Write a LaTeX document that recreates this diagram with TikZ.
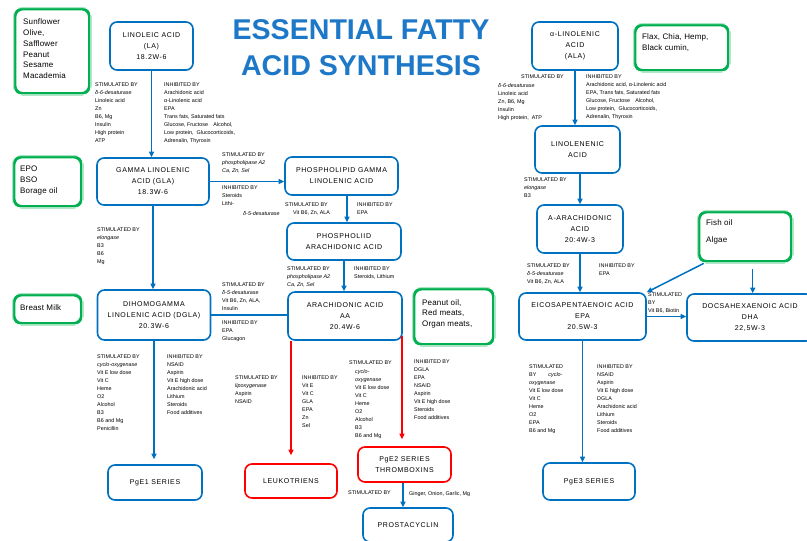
\documentclass[tikz,border=0pt]{standalone}
\usepackage{fontspec}
\setmainfont{Liberation Sans}
\newfontfamily\boxfont[LetterSpace=9]{Liberation Sans}
\newfontfamily\greenfont[LetterSpace=2]{Liberation Sans}
\usetikzlibrary{arrows.meta}
\definecolor{boxblue}{RGB}{0,112,192}
\definecolor{titleblue}{RGB}{30,120,200}
\definecolor{boxgreen}{RGB}{0,176,80}
\definecolor{boxred}{RGB}{255,0,0}
\tikzset{
  bluebox/.style={draw=boxblue, line width=1.6pt, rounded corners=7pt, fill=white, align=center, font=\boxfont\fontsize{7}{11}\selectfont, inner sep=0pt},
  redbox/.style={bluebox, draw=boxred},
  greenbox/.style={draw=boxgreen, line width=3.4pt, rounded corners=8pt, inner sep=0pt, anchor=north west},
  greentext/.style={font=\greenfont\fontsize{8}{10.8}\selectfont, align=left, anchor=north west, inner sep=0pt},
  note/.style={font=\fontsize{5.4}{8}\selectfont, align=left, anchor=north west, inner sep=0pt},
  conn/.style={draw=boxblue, line width=1.5pt},
  barrow/.style={conn, -{Triangle[length=5.5pt,width=5pt]}},
  rarrow/.style={barrow, draw=boxred, fill=boxred},
}
\newcommand\greenline[1]{\draw[white, line width=0.8pt, rounded corners=7pt] ([shift={(0.7pt,0.7pt)}]#1.south west) rectangle ([shift={(-0.7pt,-0.7pt)}]#1.north east);}
\begin{document}
\begin{tikzpicture}[x=1pt,y=-1pt]
\useasboundingbox (0,0) rectangle (807,541);
\fill[white] (0,0) rectangle (807,541);
\clip (0,0) rectangle (807,541);

% title
\node[font=\fontsize{28.6}{36}\selectfont\bfseries, text=titleblue, align=center, inner sep=0pt] (title) at (361,48) {ESSENTIAL FATTY\\ACID SYNTHESIS};

% green source boxes
\node[greenbox, minimum width=75, minimum height=85] (g1) at (13,7) {};
\greenline{g1}
\node[greentext] (g1t) at (23,18.8) {Sunflower\\Olive,\\Safflower\\Peanut\\Sesame\\Macademia};
\node[greenbox, minimum width=68, minimum height=50] (g2) at (12,155) {};
\greenline{g2}
\node[greentext] (g2t) at (20,166) {EPO\\BSO\\Borage oil};
\node[greenbox, minimum width=68, minimum height=29] (g3) at (12,293) {};
\greenline{g3}
\node[greentext] (g3t) at (20,304) {Breast Milk};
\node[greenbox, minimum width=80, minimum height=56] (g4) at (412,287) {};
\greenline{g4}
\node[greentext] (g4t) at (422,299) {Peanut oil,\\Red meats,\\Organ meats,};
\node[greenbox, minimum width=94, minimum height=46] (g5) at (633,23) {};
\greenline{g5}
\node[greentext] (g5t) at (642,34) {Flax, Chia, Hemp,\\Black cumin,};
\node[greenbox, minimum width=93, minimum height=50] (g6) at (697,210) {};
\greenline{g6}
\node[greentext] (g6t) at (706,220) {Fish oil\\[6pt]Algae};

% blue / red boxes
\node[bluebox, minimum width=83, minimum height=48] (la) at (151.5,46) {LINOLEIC ACID\\(LA)\\18.2W-6};
\node[bluebox, minimum width=112, minimum height=47] (gla) at (153,181.5) {GAMMA LINOLENIC\\ACID (GLA)\\18.3W-6};
\node[bluebox, minimum width=113, minimum height=38] (plg) at (341.5,176) {PHOSPHOLIPID GAMMA\\LINOLENIC ACID};
\node[bluebox, minimum width=114, minimum height=37] (pla) at (344,241.5) {PHOSPHOLIID\\ARACHIDONIC ACID};
\node[bluebox, minimum width=113, minimum height=50] (dgla) at (154,315) {DIHOMOGAMMA\\LINOLENIC ACID (DGLA)\\20.3W-6};
\node[bluebox, minimum width=114, minimum height=48] (aa) at (345,316) {ARACHIDONIC ACID\\AA\\20.4W-6};
\node[bluebox, minimum width=94, minimum height=35] (pge1) at (155,482.5) {PgE1 SERIES};
\node[redbox, minimum width=92, minimum height=34] (leuk) at (291,481) {LEUKOTRIENS};
\node[redbox, minimum width=93, minimum height=35] (pge2) at (404.5,464.5) {PgE2 SERIES\\THROMBOXINS};
\node[bluebox, minimum width=90, minimum height=34] (prost) at (408,525) {PROSTACYCLIN};
\node[bluebox, minimum width=86, minimum height=48] (ala) at (575,46) {α-LINOLENIC\\ACID\\(ALA)};
\node[bluebox, minimum width=85, minimum height=47] (lnn) at (577.5,149.5) {LINOLENENIC\\ACID};
\node[bluebox, minimum width=86, minimum height=48] (aar) at (580,229) {A-ARACHIDONIC\\ACID\\20:4W-3};
\node[bluebox, minimum width=127, minimum height=47] (epa) at (582.5,316.5) {EICOSAPENTAENOIC ACID\\EPA\\20.5W-3};
\node[bluebox, minimum width=126, minimum height=47] (dha) at (750,317.5) {DOCSAHEXAENOIC ACID\\DHA\\22,5W-3};
\node[bluebox, minimum width=92, minimum height=37] (pge3) at (589,481.5) {PgE3 SERIES};

% connectors
\draw[barrow] (la.south) -- (la.south |- gla.north);
\draw[barrow] (gla.south) -- (gla.south |- dgla.north);
\draw[barrow] (gla.east) -- (gla.east -| plg.west);
\coordinate (c1) at ([xshift=5.5pt]plg.south);
\draw[barrow] (c1) -- (c1 |- pla.north);
\draw[barrow] (pla.south) -- (pla.south |- aa.north);
\draw[conn] (dgla.east) -- (dgla.east -| aa.west);
\draw[barrow, shorten >=5pt] (dgla.south) -- (dgla.south |- pge1.north);
\coordinate (r1) at (leuk.north |- aa.south);
\draw[rarrow, shorten >=8pt] (r1) -- (leuk.north);
\coordinate (r2) at ([xshift=-0.8pt,yshift=5pt]aa.south east);
\draw[rarrow, shorten >=7pt] (r2) -- (r2 |- pge2.north);
\coordinate (c2) at ([xshift=-1.5pt]pge2.south);
\draw[barrow] (c2) -- (c2 |- prost.north);
\draw[barrow] (ala.south) -- (ala.south |- lnn.north);
\draw[barrow] (aar.north |- lnn.south) -- (aar.north);
\draw[barrow] (aar.south) -- (aar.south |- epa.north);
\coordinate (f1) at ([xshift=-41.5pt]g6.south);
\draw[barrow] (f1) -- (epa.north east);
\coordinate (f2) at ([xshift=7.5pt,yshift=-6pt]g6.south);
\draw[barrow] (f2) -- (f2 |- dha.north);
\draw[barrow] (epa.east) -- (epa.east -| dha.west);
\draw[barrow] (epa.south) -- (epa.south |- pge3.north);

% notes, left branch
\node[note] (n1) at (95,83) {STIMULATED BY\\\textit{δ-6-desaturase}\\Linoleic acid\\Zn\\B6, Mg\\Insulin\\High protein\\ATP};
\node[note] (n2) at (164,83) {INHIBITED BY\\Arachidonic acid\\α-Linolenic acid\\EPA\\Trans fats, Saturated fats\\Glucose, Fructose\quad Alcohol,\\Low protein,\ \ Glucocorticoids,\\Adrenalin, Thyroxin};
\node[note] (n3) at (222,153) {STIMULATED BY\\\textit{phospholipase A2}\\\textit{Ca, Zn, Sel}};
\node[note] (n4) at (222,186) {INHIBITED BY\\Steroids\\Lithi-};
\node[note] (n5) at (285,203) {STIMULATED BY\\\hspace*{8pt}Vit B6, Zn, ALA};
\node[note] (n5b) at (243,211) {\textit{δ-5-desaturase}};
\node[note] (n6) at (357,203) {INHIBITED BY\\EPA};
\node[note] (n7) at (97,228) {STIMULATED BY\\\textit{elongase}\\B3\\B6\\Mg};
\node[note] (n8) at (222,283) {STIMULATED BY\\\textit{δ-5-desaturase}\\Vit B6, Zn, ALA,\\Insulin};
\node[note] (n9) at (222,321) {INHIBITED BY\\EPA\\Glucagon};
\node[note] (n10) at (287,267) {STIMULATED BY\\\textit{phospholipase A2}\\\textit{Ca, Zn, Sel}};
\node[note] (n11) at (354,267) {INHIBITED BY\\Steroids, Lithium};
\node[note] (n12) at (97,355) {STIMULATED BY\\\textit{cyclo-oxygenase}\\Vit E low dose\\Vit C\\Heme\\O2\\Alcohol\\B3\\B6 and Mg\\Penicillin};
\node[note] (n13) at (167,355) {INHIBITED BY\\NSAID\\Aspirin\\Vit E high dose\\Arachidonic acid\\Lithium\\Steroids\\Food additives};
\node[note] (n14) at (235,376) {STIMULATED BY\\\textit{lipoxygenase}\\Aspirin\\NSAID};
\node[note] (n15) at (302,376) {INHIBITED BY\\Vit E\\Vit C\\GLA\\EPA\\Zn\\Sel};
\node[note] (n16) at (349,361) {STIMULATED BY};
\node[note] (n16b) at (355,369) {\textit{cyclo-}\\\textit{oxygenase}\\Vit E low dose\\Vit C\\Heme\\O2\\Alcohol\\B3\\B6 and Mg};
\node[note] (n17) at (414,360) {INHIBITED BY\\DGLA\\EPA\\NSAID\\Aspirin\\Vit E high dose\\Steroids\\Food additives};
\node[note] (n18) at (348,491) {STIMULATED BY};
\node[note] (n19) at (409,491) {Ginger, Onion, Garlic, Mg};

% notes, right branch
\node[note] (m1) at (521,75) {STIMULATED BY};
\node[note] (m1b) at (498,83) {\textit{δ-6-desaturase}\\Linoleic acid\\Zn, B6, Mg\\Insulin\\High protein,\ \ ATP};
\node[note] (m2) at (586,75) {INHIBITED BY\\Arachidonic acid, α-Linolenic acid\\EPA, Trans fats, Saturated fats\\Glucose, Fructose\quad Alcohol,\\Low protein,\ \ Glucocorticoids,\\Adrenalin, Thyroxin};
\node[note] (m3) at (524,178) {STIMULATED BY\\\textit{elongase}\\B3};
\node[note] (m4) at (527,264) {STIMULATED BY\\\textit{δ-5-desaturase}\\Vit B6, Zn, ALA};
\node[note] (m5) at (599,264) {INHIBITED BY\\EPA};
\node[note] (m6) at (648,293) {STIMULATED\\BY\\Vit B6, Biotin};
\node[note] (m7) at (529,365) {STIMULATED\\BY\hspace{12pt}\textit{cyclo-}\\\textit{oxygenase}\\Vit E low dose\\Vit C\\Heme\\O2\\EPA\\B6 and Mg};
\node[note] (m8) at (597,365) {INHIBITED BY\\NSAID\\Aspirin\\Vit E high dose\\DGLA\\Arachidonic acid\\Lithium\\Steroids\\Food additives};
\end{tikzpicture}
\end{document}
